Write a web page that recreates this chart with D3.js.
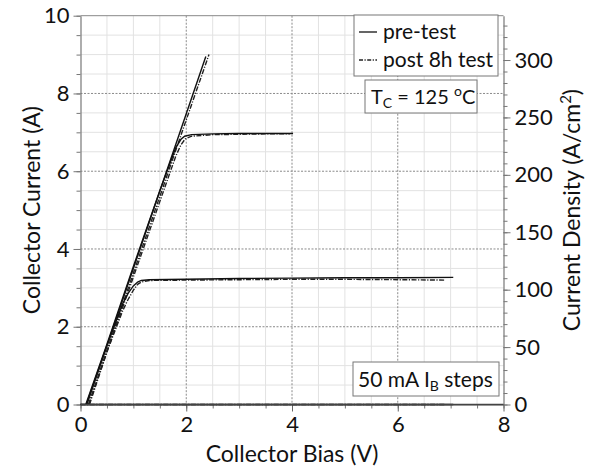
<!DOCTYPE html>
<html>
<head>
<meta charset="utf-8">
<script src="https://cdn.jsdelivr.net/npm/d3@7"></script>
<style>
  html, body { margin: 0; padding: 0; background: #fff; }
  svg { display: block; font-family: Lato, "Open Sans", sans-serif; }
</style>
</head>
<body>
<svg id="chart" width="591" height="469"></svg>
<script>
// ---------- data ----------
const xTicks = [0, 2, 4, 6, 8];
const yTicks = [0, 2, 4, 6, 8, 10];
const yRightTicks = [0, 50, 100, 150, 200, 250, 300];

// Collector bias (V), collector current (A) for pre-test and post 8h test, per IB step
const pre0   = [[0, 0], [7.05, 0]];
const post0  = [[0, 0], [6.9, 0]];
const pre50  = [[0.11, 0], [0.5, 1.52], [0.8, 2.6], [0.9, 2.86], [1.0, 3.05], [1.08, 3.15], [1.15, 3.19], [1.3, 3.21], [2, 3.22], [3, 3.24], [4, 3.25], [5, 3.26], [6, 3.26], [7.05, 3.27]];
const post50 = [[0.16, 0], [0.5, 1.36], [0.8, 2.42], [0.9, 2.7], [1.0, 2.94], [1.08, 3.09], [1.15, 3.15], [1.3, 3.19], [2, 3.2], [3, 3.21], [4, 3.22], [5, 3.22], [6, 3.21], [6.88, 3.2]];
const pre100  = [[0.1, 0], [0.5, 1.55], [1.0, 3.55], [1.5, 5.5], [1.8, 6.6], [1.9, 6.82], [1.97, 6.9], [2.1, 6.94], [2.5, 6.96], [3, 6.97], [3.5, 6.97], [4.02, 6.97]];
const post100 = [[0.17, 0], [0.5, 1.35], [1.0, 3.28], [1.5, 5.22], [1.8, 6.38], [1.9, 6.68], [1.98, 6.83], [2.1, 6.9], [2.5, 6.94], [3, 6.95], [3.5, 6.96], [3.96, 6.96]];
const pre150  = [[0.12, 0], [1.0, 3.5], [2.0, 7.48], [2.37, 8.95]];
const post150 = [[0.15, 0], [1.0, 3.38], [2.0, 7.32], [2.43, 9.0]];

const preCurves  = [pre0, pre50, pre100, pre150];
const postCurves = [post0, post50, post100, post150];

// ---------- layout ----------
const L = 80.5, R = 503.5, T = 15.7, B = 404.5;
const svg = d3.select("#chart");

const x = d3.scaleLinear().domain([0, 8]).range([L, R]);
const y = d3.scaleLinear().domain([0, 10]).range([B, T]);
const yR = d3.scaleLinear().domain([0, 338.6]).range([B, T]);

// minor grid
const xMinor = d3.range(0, 8.01, 0.5);
const yMinor = d3.range(0, 10.01, 0.5);
svg.append("g").selectAll("line").data(xMinor.filter(v => v % 2 !== 0)).join("line")
  .attr("x1", d => x(d)).attr("x2", d => x(d)).attr("y1", T).attr("y2", B)
  .attr("stroke", "#e2e2e2").attr("stroke-width", 1);
svg.append("g").selectAll("line").data(yMinor.filter(v => v % 2 !== 0)).join("line")
  .attr("y1", d => y(d)).attr("y2", d => y(d)).attr("x1", L).attr("x2", R)
  .attr("stroke", "#e2e2e2").attr("stroke-width", 1);
// major grid (dotted)
svg.append("g").selectAll("line").data(xTicks.filter(v => v > 0 && v < 8)).join("line")
  .attr("x1", d => x(d)).attr("x2", d => x(d)).attr("y1", T).attr("y2", B)
  .attr("stroke", "#8a8a8a").attr("stroke-width", 1).attr("stroke-dasharray", "2,1.5");
svg.append("g").selectAll("line").data(yTicks.filter(v => v > 0 && v < 10)).join("line")
  .attr("y1", d => y(d)).attr("y2", d => y(d)).attr("x1", L).attr("x2", R)
  .attr("stroke", "#8a8a8a").attr("stroke-width", 1).attr("stroke-dasharray", "2,1.5");

// top border
svg.append("line").attr("x1", L).attr("x2", R).attr("y1", T).attr("y2", T)
  .attr("stroke", "#888").attr("stroke-width", 1);

// axes
const fontSize = 22;
function styleAxis(g, color) {
  g.select(".domain").attr("stroke", color).attr("stroke-width", 1.2);
  g.selectAll(".tick line").attr("stroke", color);
  g.selectAll(".tick text").attr("fill", "#111").style("font-size", fontSize + "px").style("font-family", "Lato, 'Open Sans', sans-serif");
}
// minor ticks first
svg.append("g").attr("transform", `translate(0,${B})`)
  .call(d3.axisBottom(x).tickValues(xMinor).tickSize(4).tickFormat(""))
  .call(g => { g.select(".domain").remove(); g.selectAll(".tick line").attr("stroke", "#777"); });
svg.append("g").attr("transform", `translate(${L},0)`)
  .call(d3.axisLeft(y).tickValues(yMinor).tickSize(4).tickFormat(""))
  .call(g => { g.select(".domain").remove(); g.selectAll(".tick line").attr("stroke", "#777"); });
svg.append("g").attr("transform", `translate(${R},0)`)
  .call(d3.axisRight(yR).tickValues(d3.range(0, 331, 10)).tickSize(4).tickFormat(""))
  .call(g => { g.select(".domain").remove(); g.selectAll(".tick line").attr("stroke", "#777"); });

svg.append("g").attr("transform", `translate(0,${B})`)
  .call(d3.axisBottom(x).tickValues(xTicks).tickSize(7).tickPadding(5).tickSizeOuter(0).tickFormat(d3.format("d")))
  .call(g => styleAxis(g, "#666"));
svg.append("g").attr("transform", `translate(${L},0)`)
  .call(d3.axisLeft(y).tickValues(yTicks).tickSize(7).tickPadding(4).tickSizeOuter(0).tickFormat(d3.format("d")))
  .call(g => styleAxis(g, "#777"));
svg.append("g").attr("transform", `translate(${R},0)`)
  .call(d3.axisRight(yR).tickValues(yRightTicks).tickSize(7).tickPadding(4).tickSizeOuter(0).tickFormat(d3.format("d")))
  .call(g => styleAxis(g, "#777"));

// curves
const line = d3.line().x(d => x(d[0])).y(d => y(d[1]));
svg.append("g").selectAll("path").data(postCurves).join("path")
  .attr("d", line).attr("fill", "none").attr("stroke", "#222").attr("stroke-width", 1.4)
  .attr("stroke-dasharray", "5,1.5,1.2,1.5");
svg.append("g").selectAll("path").data(preCurves).join("path")
  .attr("d", line).attr("fill", "none").attr("stroke", "#111").attr("stroke-width", 1.4);

// bottom axis line on top
svg.append("line").attr("x1", L).attr("x2", R).attr("y1", B).attr("y2", B)
  .attr("stroke", "#444").attr("stroke-width", 1.6);

// axis titles
svg.append("text").attr("x", (L + R) / 2).attr("y", 462).attr("text-anchor", "middle")
  .style("font-size", "23px").attr("fill", "#111").text("Collector Bias (V)");
svg.append("text").attr("transform", `translate(40,${(T + B) / 2}) rotate(-90)`).attr("text-anchor", "middle")
  .style("font-size", "23px").attr("fill", "#111").text("Collector Current (A)");
const rt = svg.append("text").attr("transform", `translate(580,${(T + B) / 2}) rotate(-90)`).attr("text-anchor", "middle")
  .style("font-size", "23px").attr("fill", "#111");
rt.append("tspan").text("Current Density (A/cm");
rt.append("tspan").attr("dy", -9).style("font-size", "15px").text("2");
rt.append("tspan").attr("dy", 9).text(")");

// legend
svg.append("rect").attr("x", 354).attr("y", 15).attr("width", 144).attr("height", 61)
  .attr("fill", "#fff").attr("stroke", "#777").attr("stroke-width", 1);
svg.append("line").attr("x1", 359).attr("x2", 377).attr("y1", 32).attr("y2", 32)
  .attr("stroke", "#111").attr("stroke-width", 1.3);
svg.append("line").attr("x1", 359).attr("x2", 377).attr("y1", 60).attr("y2", 60)
  .attr("stroke", "#222").attr("stroke-width", 1.3).attr("stroke-dasharray", "4,1.5,1.2,1.5");
svg.append("text").attr("x", 383).attr("y", 39).style("font-size", "21px").attr("fill", "#111").text("pre-test");
svg.append("text").attr("x", 383).attr("y", 67).style("font-size", "21px").attr("fill", "#111").text("post 8h test");

// Tc box
svg.append("rect").attr("x", 365).attr("y", 80).attr("width", 112).attr("height", 33)
  .attr("fill", "#fff").attr("stroke", "#777").attr("stroke-width", 1);
const tc = svg.append("text").attr("x", 371).attr("y", 104).style("font-size", "20px").attr("fill", "#111");
tc.append("tspan").text("T");
tc.append("tspan").attr("dy", 4).style("font-size", "14px").text("C");
tc.append("tspan").attr("dy", -4).text(" = 125 ");
tc.append("tspan").attr("dy", -8).style("font-size", "14px").text("o");
tc.append("tspan").attr("dy", 8).text("C");

// IB steps box
svg.append("rect").attr("x", 353).attr("y", 362).attr("width", 146).attr("height", 34)
  .attr("fill", "#fff").attr("stroke", "#777").attr("stroke-width", 1);
const ib = svg.append("text").attr("x", 358).attr("y", 387).style("font-size", "21px").attr("fill", "#111");
ib.append("tspan").text("50 mA I");
ib.append("tspan").attr("dy", 4).style("font-size", "14px").text("B");
ib.append("tspan").attr("dy", -4).text(" steps");
</script>
</body>
</html>
